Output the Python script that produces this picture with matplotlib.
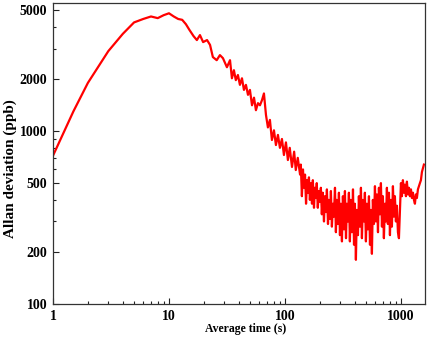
import matplotlib
matplotlib.use("Agg")
import matplotlib.pyplot as plt
from matplotlib.ticker import FixedLocator, LogLocator, NullFormatter

# averaging time (s) and Allan deviation (ppb)
tau = [1, 1.5, 2, 3, 4, 5, 6, 7, 8, 9, 10, 11, 12, 13, 14, 15,
       16.3, 17.4, 18.5, 19.7, 21.3, 22.6, 23.9, 25.8, 27.5, 29.2, 31.6,
       33.6, 34.9, 36.3, 37.7, 39.3, 40.9, 42.6, 44.3, 46.1, 48.0, 49.9,
       52.0, 54.1, 56.2, 58.5, 60.9, 63.4, 65.9, 68.6, 71.3, 74.2, 77.2,
       80.4, 83.6, 87.0, 90.5, 94.2, 98.0, 102, 106, 110, 115, 120, 124,
       129, 135, 137, 140, 143, 146, 149, 152, 155, 158, 161, 164, 168,
       171, 174, 178, 181, 185, 188, 192, 196, 200, 204, 208, 212, 217,
       221, 226, 230, 235, 239, 244, 249, 254, 259, 264, 270, 275, 280,
       286, 292, 298, 304, 310, 316, 323, 329, 336, 342, 349, 356, 363,
       370, 378, 386, 394, 401, 409, 417, 426, 434, 443, 452, 461, 470,
       480, 489, 499, 509, 519, 530, 541, 551, 562, 573, 585, 597, 609,
       621, 634, 646, 659, 672, 686, 699, 713, 728, 742, 757, 772, 788,
       804, 820, 836, 853, 870, 887, 905, 923, 942, 961, 980, 1000, 1020,
       1040, 1061, 1083, 1104, 1126, 1149, 1172, 1195, 1220, 1244, 1269,
       1294, 1320, 1346, 1373, 1401, 1429, 1458, 1487, 1517, 1547, 1578]
adev = [720, 1300, 1900, 2900, 3650, 4250, 4450, 4600, 4500, 4680, 4800,
        4600, 4450, 4400, 4150, 3850,
        3540, 3360, 3590, 3270, 3360, 3150, 2680, 2570, 2750, 2640, 2340,
        2570, 2020, 2250, 1970, 2110, 1850, 2020, 1730, 1850, 1620, 1730,
        1410, 1560, 1320, 1450, 1410, 1510, 1650, 1240, 1050, 1160, 888,
        1010, 830, 950, 800, 900, 727, 860, 680, 800, 620, 760, 595,
        700, 560, 640, 420, 600, 470, 560, 380, 520, 440, 540, 400, 500,
        380, 520, 360, 470, 410, 500, 360, 450, 390, 470, 330, 440, 300,
        420, 340, 460, 290, 400, 310, 450, 280, 380, 320, 470, 260, 400,
        290, 440, 250, 380, 230, 420, 270, 450, 240, 380, 300, 440, 230,
        400, 260, 460, 220, 380, 180, 350, 250, 420, 280, 470, 240, 400,
        300, 440, 230, 380, 270, 420, 220, 350, 195, 400, 290, 480, 300,
        430, 260, 470, 330, 500, 280, 420, 240, 380, 300, 470, 290, 440,
        250, 400, 280, 480, 320, 420, 300, 370, 260, 240, 350, 500, 420,
        520, 440, 490, 420, 510, 430, 470, 420, 460, 410, 440,
        400, 380, 430, 410, 460, 480, 500, 520, 580, 610, 640]

y_major = [100, 200, 500, 1000, 2000, 5000]
x_major = [1, 10, 100, 1000]

plt.rcParams['font.family'] = ['Liberation Serif', 'DejaVu Serif']
plt.rcParams['font.weight'] = 'bold'

fig = plt.figure(figsize=(4.29, 3.40), dpi=100)
ax = fig.add_axes([0.1235, 0.106, 0.867, 0.885])

ax.plot(tau, adev, color='#ff0000', lw=1.6)

ax.set_xscale('log')
ax.set_yscale('log')
ax.set_xlim(1, 1610)
ax.set_ylim(100, 5500)

ax.xaxis.set_major_locator(FixedLocator(x_major))
ax.set_xticklabels([str(v) for v in x_major])
ax.xaxis.set_minor_locator(LogLocator(base=10, subs=range(2, 10)))
ax.xaxis.set_minor_formatter(NullFormatter())
ax.yaxis.set_major_locator(FixedLocator(y_major))
ax.set_yticklabels([str(v) for v in y_major])
ax.yaxis.set_minor_locator(FixedLocator([300, 400, 600, 700, 800, 900,
                                         3000, 4000]))
ax.yaxis.set_minor_formatter(NullFormatter())

ax.tick_params(which='both', direction='in', top=False, right=False,
               labelsize=10, width=0.8, color='#222222')
ax.tick_params(which='major', length=4.5, pad=4)
ax.tick_params(which='minor', length=2.5)
for s in ax.spines.values():
    s.set_linewidth(0.9)
    s.set_color('#333333')

ax.set_xlabel('Average time (s)', fontsize=8.5, fontweight='bold')
ax.set_ylabel('Allan deviation (ppb)', fontsize=11, fontweight='bold')
ax.xaxis.set_label_coords(0.519, -0.084)
ax.xaxis.label.set_va('center')
ax.yaxis.set_label_coords(-0.116, 0.449)
ax.yaxis.label.set_va('center')

fig.savefig('out.png', dpi=100)
